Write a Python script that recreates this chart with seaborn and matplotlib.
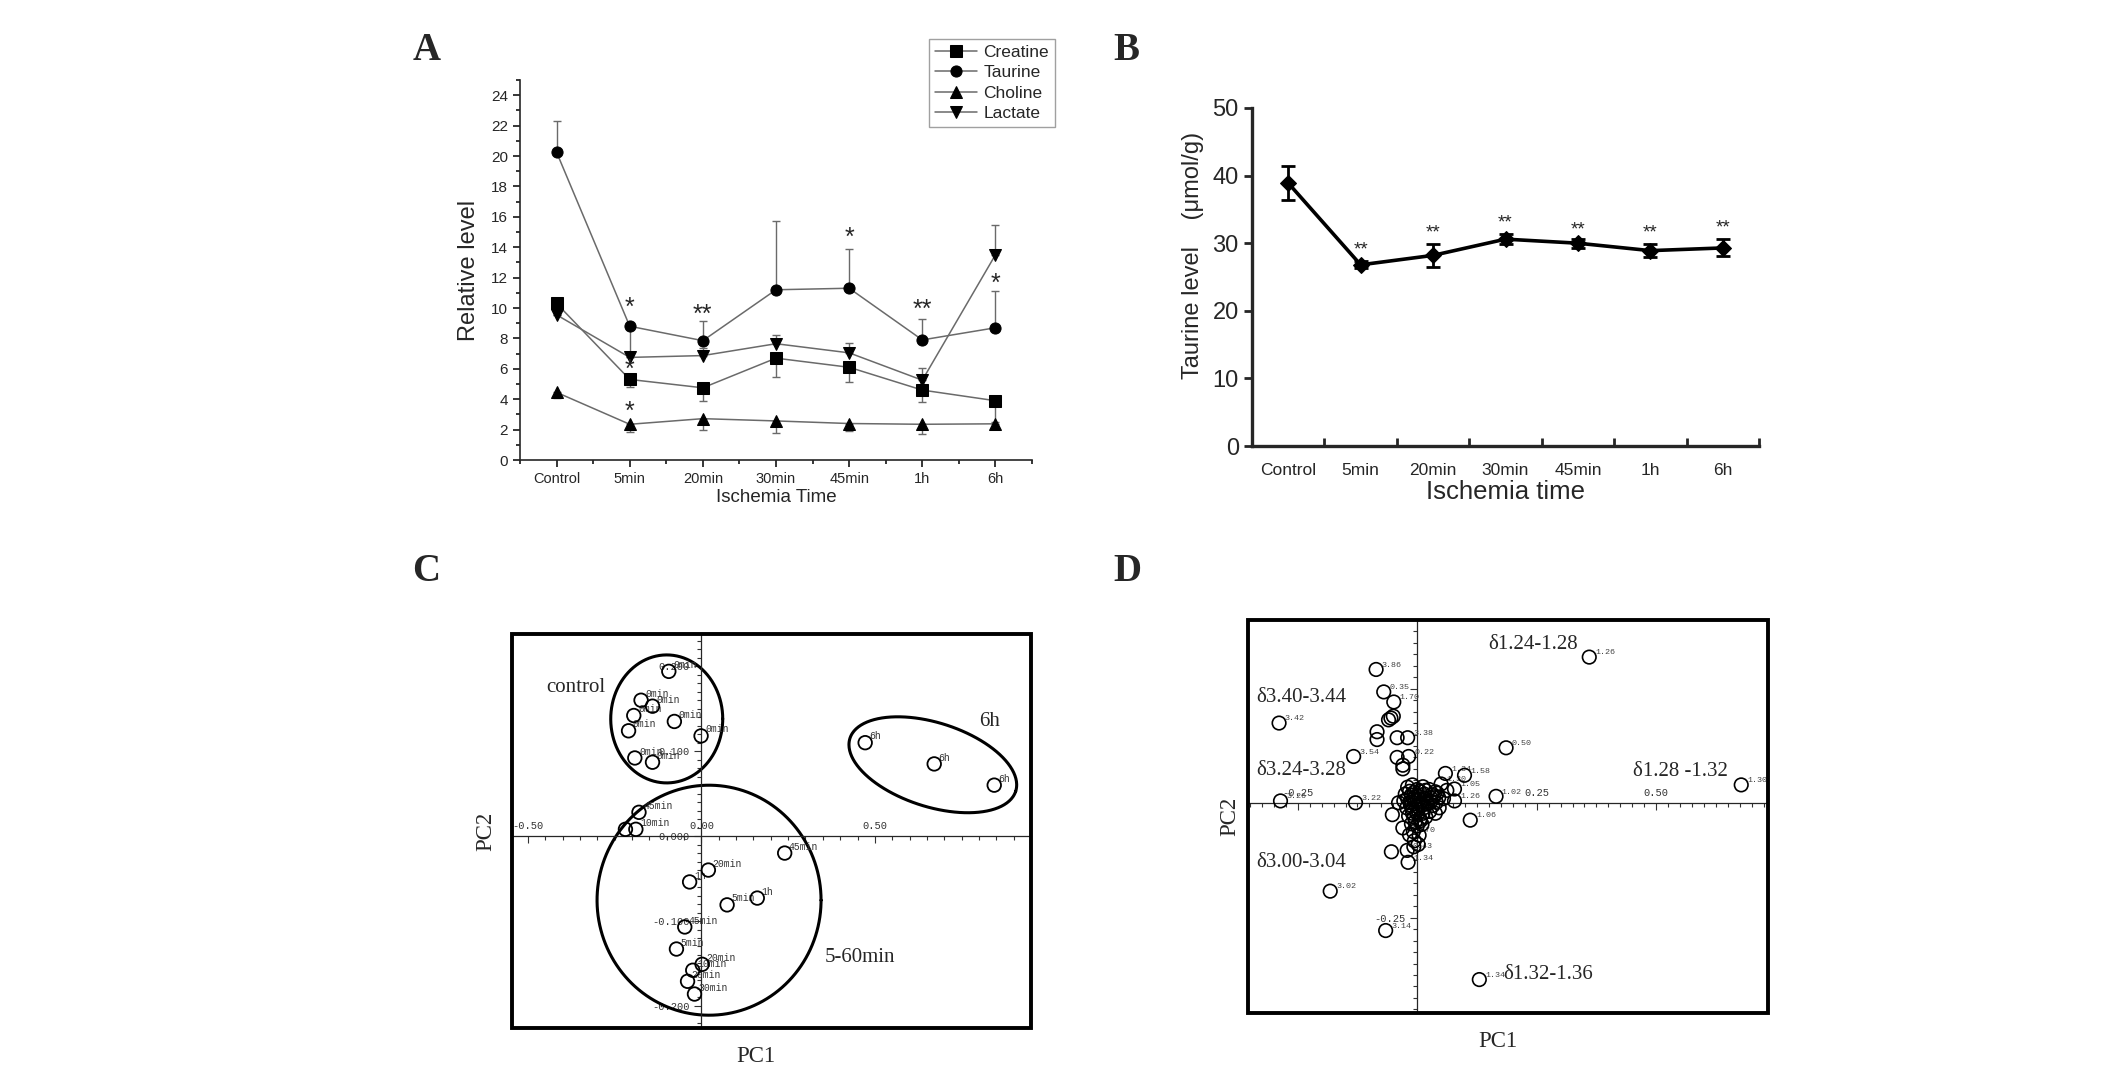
import numpy as np
import pandas as pd
import matplotlib
matplotlib.use("Agg")
import matplotlib.pyplot as plt
import seaborn as sns
from matplotlib.ticker import MultipleLocator, FixedLocator, NullFormatter
from matplotlib.patches import Rectangle

# ---------------- data ----------------
times = ["Control", "5min", "20min", "30min", "45min", "1h", "6h"]

# panel A (relative level), error bars are one-sided
metabolites = ["Creatine", "Taurine", "Choline", "Lactate"]
creatine = [10.3, 5.3, 4.75, 6.7, 6.1, 4.6, 3.9]
taurine = [20.25, 8.8, 7.85, 11.2, 11.3, 7.9, 8.7]
choline = [4.45, 2.35, 2.72, 2.57, 2.4, 2.35, 2.38]
lactate = [9.55, 6.75, 6.87, 7.65, 7.05, 5.25, 13.5]
creatine_up = [0, 0, 0, 0, 0, 0, 0]
creatine_dn = [0, 0.5, 0.85, 1.27, 0.94, 0.78, 1.4]
taurine_up = [2.08, 0, 1.32, 4.5, 2.58, 1.4, 2.44]
taurine_dn = [0, 1.9, 0, 0, 0, 0, 0]
choline_up = [0, 0, 0, 0, 0, 0, 0]
choline_dn = [0.36, 0.51, 0.74, 0.8, 0.52, 0.63, 0.3]
lactate_up = [0, 0, 0.5, 0.6, 0.67, 0.8, 1.97]
lactate_dn = [0, 0, 0, 0, 0, 0, 0]
starsA_x = [1, 1, 1, 2, 4, 5, 6]
starsA_y = [10.0, 5.9, 3.2, 9.55, 14.6, 9.85, 11.6]
starsA_txt = ["*", "*", "*", "**", "*", "**", "*"]

# panel B (taurine umol/g)
taurineB = [38.9, 26.8, 28.2, 30.6, 30.0, 28.9, 29.3]
taurineB_err = [2.5, 0.5, 1.65, 0.7, 0.65, 1.0, 1.25]
starsB_y = [29.0, 31.5, 33.0, 31.9, 31.5, 32.2]

# panel C (PCA scores)
scoreC_x = [-0.094, -0.174, -0.141, -0.195, -0.078, -0.210, -0.001, -0.192, -0.141,
            0.472, 0.671, 0.844,
            -0.180, -0.219, -0.189, 0.240, 0.020, -0.034, 0.161, 0.074, -0.048,
            -0.072, 0.002, -0.025, -0.040, -0.020]
scoreC_y = [0.194, 0.160, 0.153, 0.142, 0.135, 0.124, 0.118, 0.092, 0.087,
            0.110, 0.085, 0.060,
            0.028, 0.008, 0.008, -0.020, -0.040, -0.054, -0.073, -0.081, -0.107,
            -0.133, -0.151, -0.158, -0.171, -0.186]
scoreC_lab = ["0min"] * 9 + ["6h"] * 3 + [
    "45min", "", "10min", "45min", "20min", "1h", "1h", "5min", "45min",
    "5min", "20min", "10min", "20min", "30min"]
groupC_name = ["control", "6h", "5-60min"]
groupC_tx = [-0.447, 0.80, 0.355]
groupC_ty = [0.175, 0.135, -0.143]
ellC_cx = [-0.10, 0.667, 0.022]
ellC_cy = [0.138, 0.084, -0.0755]
ellC_a = [56, 87, 112]      # semi axes in pixels
ellC_b = [64, 42, 115]
ellC_ang = [0, -17.7, 0]

# panel D (PCA loadings)
loadD_x = [0.360, -0.086, -0.289, -0.133, 0.186, 0.678, 0.165, 0.111, -0.286, -0.129,
           -0.182, -0.066, 0.130, -0.070, -0.049, -0.060, -0.055, -0.050, -0.084,
           -0.084, -0.042, -0.020, -0.042, -0.018, -0.030, -0.030, 0.059, 0.099,
           0.050, 0.078, 0.078, -0.039, -0.052, -0.030, -0.016, -0.054, -0.021,
           -0.007, -0.019,
           -0.020, -0.010, 0.000, 0.012, 0.025, 0.038, 0.045, -0.025, -0.012, 0.002,
           0.015, 0.028, 0.040, -0.028, -0.015, -0.004, 0.008, 0.020, 0.033, 0.046,
           -0.022, -0.010, 0.002, 0.014, 0.026, 0.038, -0.018, -0.006, 0.006, 0.018,
           -0.012, 0.000, 0.010, -0.008, 0.004,
           -0.016, -0.006, 0.005, 0.017, 0.030, -0.020, -0.008, 0.004, 0.016, 0.028,
           -0.014, -0.002, 0.010, 0.022, -0.010, 0.001, 0.012, -0.004, 0.007, 0.034,
           0.042, 0.055, 0.062, -0.006, 0.002]
loadD_y = [0.319, 0.292, 0.175, 0.102, 0.121, 0.040, 0.015, -0.037, 0.005, 0.001,
           -0.192, -0.278, -0.385, 0.243, 0.221, 0.182, 0.186, 0.190, 0.156,
           0.139, 0.143, 0.143, 0.100, 0.102, 0.083, 0.075, 0.065, 0.061,
           0.042, 0.031, 0.005, 0.001, -0.025, -0.054, -0.069, -0.106, -0.103,
           -0.095, -0.129,
           0.035, 0.040, 0.030, 0.036, 0.030, 0.025, 0.012, 0.020, 0.018, 0.015,
           0.020, 0.012, 0.002, 0.005, 0.002, 0.006, 0.000, 0.004, -0.005, -0.010,
           -0.010, -0.012, -0.015, -0.010, -0.018, -0.022, -0.028, -0.030, -0.034, -0.030,
           -0.045, -0.050, -0.046, -0.062, -0.070,
           0.026, 0.024, 0.026, 0.028, 0.018, 0.010, 0.008, 0.009, 0.011, 0.004,
           -0.004, -0.006, -0.004, -0.002, -0.022, -0.024, -0.022, -0.040, -0.038, 0.014,
           0.022, 0.010, 0.028, -0.082, -0.090]
loadD_lab = ["1.26", "3.86", "3.42", "3.54", "0.50", "1.30", "1.02", "1.06", "3.26", "3.22",
             "3.02", "3.14", "1.34", "0.35", "1.70", "", "", "", "", "", "", "3.38", "",
             "0.22", "", "", "1.34", "1.58", "1.30", "1.05", "1.26", "", "", "", "1.70",
             "", "0.43", "", "1.34"]
loadD_lab = loadD_lab + [""] * (len(loadD_x) - len(loadD_lab))
regionD = ["δ1.24-1.28", "δ3.40-3.44", "δ3.24-3.28", "δ3.00-3.04", "δ1.28 -1.32", "δ1.32-1.36"]
regionD_x = [0.148, -0.337, -0.337, -0.337, 0.452, 0.181]
regionD_y = [0.347, 0.231, 0.072, -0.129, 0.070, -0.374]

# ---------------- style ----------------
sns.set_theme(style="ticks")
sans = ["Liberation Sans Narrow", "Liberation Sans", "DejaVu Sans"]
serif = ["Liberation Serif", "DejaVu Serif"]
mono = ["Liberation Mono", "DejaVu Sans Mono"]
plt.rcParams["font.family"] = sans
plt.rcParams["axes.linewidth"] = 1.2

W, H = 2126, 1072
fig = plt.figure(figsize=(W / 100, H / 100), dpi=100)


def fx(px):
    return px / W


def fy(py):
    return 1 - py / H


for lab, x0, y0 in [("A", 413, 60), ("B", 1113, 60), ("C", 412, 581), ("D", 1113, 581)]:
    fig.text(fx(x0), fy(y0), lab, family=serif, weight="bold", fontsize=28,
             ha="left", va="baseline")

# ---------------- panel A ----------------
axA = fig.add_axes([fx(520), fy(460), fx(1032) - fx(520), fy(80) - fy(460)])
pos = list(range(len(times)))
series = [creatine, taurine, choline, lactate]
ups = [creatine_up, taurine_up, choline_up, lactate_up]
dns = [creatine_dn, taurine_dn, choline_dn, lactate_dn]
dfA = pd.DataFrame({
    "pos": pos * 4,
    "level": sum(series, []),
    "metabolite": np.repeat(metabolites, len(times)),
})
gray = "#6a6a6a"
sns.lineplot(data=dfA, x="pos", y="level", hue="metabolite", style="metabolite",
             markers=dict(zip(metabolites, ["s", "o", "^", "v"])), dashes=False,
             palette={m: gray for m in metabolites}, lw=1.1, markersize=8,
             mfc="black", markeredgecolor="black", legend=False, sort=False, ax=axA)
handles = axA.get_lines()[:4]
for vals, up, dn in zip(series, ups, dns):
    axA.errorbar(pos, vals, yerr=[dn, up], fmt="none", ecolor=gray, elinewidth=1,
                 capsize=3, capthick=1, zorder=1)
for x, y, t in zip(starsA_x, starsA_y, starsA_txt):
    axA.text(x, y, t, ha="center", va="center", fontsize=18)

axA.set_xlim(-0.5, 6.5)
axA.set_ylim(0, 25)
axA.set_xticks(pos)
axA.set_xticklabels(times, fontsize=10.5)
axA.xaxis.set_minor_locator(FixedLocator(np.arange(-0.5, 7, 1)))
axA.yaxis.set_major_locator(FixedLocator(np.arange(0, 25, 2)))
axA.yaxis.set_minor_locator(MultipleLocator(1))
axA.tick_params(axis="y", labelsize=11)
axA.tick_params(which="major", direction="out", length=5, width=1.1, color="black")
axA.tick_params(which="minor", direction="out", length=3, width=1.1, color="black")
axA.set_xlabel("Ischemia Time", fontsize=13.5, labelpad=2)
axA.set_ylabel("Relative level", fontsize=17, labelpad=8)
sns.despine(ax=axA)
leg = axA.legend(handles, metabolites, loc="upper right",
                 bbox_to_anchor=(fx(1064), fy(30)), bbox_transform=fig.transFigure,
                 fontsize=12.5, frameon=True, fancybox=False, edgecolor="#888888",
                 handlelength=2.4, borderpad=0.35, labelspacing=0.3, handletextpad=0.4)
leg.get_frame().set_linewidth(1.0)

# ---------------- panel B ----------------
axB = fig.add_axes([fx(1252), fy(446), fx(1759) - fx(1252), fy(108) - fy(446)])
sns.lineplot(x=pos, y=taurineB, color="black", lw=2.6, marker="D", markersize=8,
             mfc="black", markeredgecolor="black", ax=axB)
axB.errorbar(pos, taurineB, yerr=taurineB_err, fmt="none", ecolor="black",
             elinewidth=2, capsize=5, capthick=2)
for x, y in zip(pos[1:], starsB_y):
    axB.text(x, y, "**", ha="center", va="center", fontsize=13.5)
axB.set_xlim(-0.5, 6.5)
axB.set_ylim(0, 50)
axB.xaxis.set_major_locator(FixedLocator(np.arange(-0.5, 7, 1)))
axB.xaxis.set_major_formatter(NullFormatter())
axB.xaxis.set_minor_locator(FixedLocator(pos))
axB.set_xticklabels(times, minor=True, fontsize=12.5)
axB.set_yticks(np.arange(0, 51, 10))
axB.tick_params(axis="x", which="major", direction="in", length=6, width=2)
axB.tick_params(axis="x", which="minor", length=0, pad=12)
axB.tick_params(axis="y", direction="out", length=6, width=2, labelsize=17)
for side in ["left", "bottom"]:
    axB.spines[side].set_linewidth(2.4)
sns.despine(ax=axB)
axB.set_xlabel("Ischemia time", fontsize=18.5, labelpad=2)
axB.set_ylabel("Taurine level    (μmol/g)", fontsize=17, labelpad=6)
axB.yaxis.set_label_coords(-0.095, 0.564)


# ---------------- PCA panels ----------------
def pca_frame(ax, xlim, ylim):
    ax.set_xlim(*xlim)
    ax.set_ylim(*ylim)
    for side in ["top", "right"]:
        ax.spines[side].set_visible(False)
    for side in ["left", "bottom"]:
        ax.spines[side].set_position(("data", 0))
        ax.spines[side].set_linewidth(0.9)
    ax.add_patch(Rectangle((0, 0), 1, 1, transform=ax.transAxes, fill=False,
                           lw=2.8, ec="black", clip_on=False, zorder=10))
    ax.tick_params(which="both", direction="out", width=0.8, color="#333333",
                   labelsize=7.5, labelcolor="#333333")
    ax.tick_params(which="major", length=5)
    ax.tick_params(which="minor", length=3)
    ax.tick_params(axis="x", pad=-16)
    for t in ax.get_xticklabels() + ax.get_yticklabels():
        t.set_family(mono)
    ax.set_xlabel("")
    ax.set_ylabel("")


def ellipse_xy(ax, cx, cy, a, b, ang):
    p0 = ax.transData.transform((0, 0))
    p1 = ax.transData.transform((1, 1))
    sx, sy = p1 - p0
    t = np.linspace(0, 2 * np.pi, 300)
    th = np.deg2rad(ang)
    dx = a * np.cos(t) * np.cos(th) - b * np.sin(t) * np.sin(th)
    dy = a * np.cos(t) * np.sin(th) + b * np.sin(t) * np.cos(th)
    return cx + dx / sx, cy + dy / sy


# panel C
axC = fig.add_axes([fx(512), fy(1028), fx(1031) - fx(512), fy(634) - fy(1028)])
axC.set_xlim(-0.546, 0.95)
axC.set_ylim(-0.226, 0.238)
sns.scatterplot(x=scoreC_x, y=scoreC_y, marker="o", s=95, facecolors="none",
                edgecolor="black", linewidth=1.3, ax=axC, zorder=5)
for x, y, t in zip(scoreC_x, scoreC_y, scoreC_lab):
    axC.text(x + 0.012, y + 0.004, t, family=mono, fontsize=7, color="#333333")
for cx, cy, a, b, ang in zip(ellC_cx, ellC_cy, ellC_a, ellC_b, ellC_ang):
    ex, ey = ellipse_xy(axC, cx, cy, a, b, ang)
    axC.plot(ex, ey, color="black", lw=2.2)
for t, x, y in zip(groupC_name, groupC_tx, groupC_ty):
    axC.text(x, y, t, family=serif, fontsize=15, va="center")
axC.set_xticks([-0.5, 0.0, 0.5])
axC.set_xticklabels(["-0.50", "0.00", "0.50"])
axC.xaxis.set_minor_locator(MultipleLocator(0.05))
axC.set_yticks([-0.2, -0.1, 0.0, 0.1, 0.2])
axC.set_yticklabels(["-0.200", "-0.100", "0.000", "0.100", "0.200"])
axC.yaxis.set_minor_locator(MultipleLocator(0.01))
pca_frame(axC, (-0.546, 0.95), (-0.226, 0.238))
axC.text(0.47, -0.045, "PC1", transform=axC.transAxes, family=serif, fontsize=16.5,
         ha="center", va="top")
axC.text(-0.03, 0.5, "PC2", transform=axC.transAxes, family=serif, fontsize=16.5,
         ha="right", va="center", rotation=90)

# panel D
axD = fig.add_axes([fx(1248), fy(1013), fx(1768) - fx(1248), fy(620) - fy(1013)])
sns.scatterplot(x=loadD_x, y=loadD_y, marker="o", s=95, facecolors="none",
                edgecolor="black", linewidth=1.2, ax=axD, zorder=5)
for x, y, t in zip(loadD_x, loadD_y, loadD_lab):
    axD.text(x + 0.012, y + 0.006, t, family=mono, fontsize=6, color="#444444")
for t, x, y in zip(regionD, regionD_x, regionD_y):
    axD.text(x, y, t, family=serif, fontsize=15, va="center")
axD.set_xticks([-0.25, 0.25, 0.5])
axD.set_xticklabels(["-0.25", "0.25", "0.50"])
axD.xaxis.set_minor_locator(MultipleLocator(0.025))
axD.set_yticks([-0.25, 0.25])
axD.set_yticklabels(["-0.25", ""])
axD.yaxis.set_minor_locator(MultipleLocator(0.025))
pca_frame(axD, (-0.354, 0.734), (-0.458, 0.40))
axD.text(0.48, -0.045, "PC1", transform=axD.transAxes, family=serif, fontsize=16.5,
         ha="center", va="top")
axD.text(-0.015, 0.5, "PC2", transform=axD.transAxes, family=serif, fontsize=16.5,
         ha="right", va="center", rotation=90)

fig.savefig("out.png", dpi=100)
